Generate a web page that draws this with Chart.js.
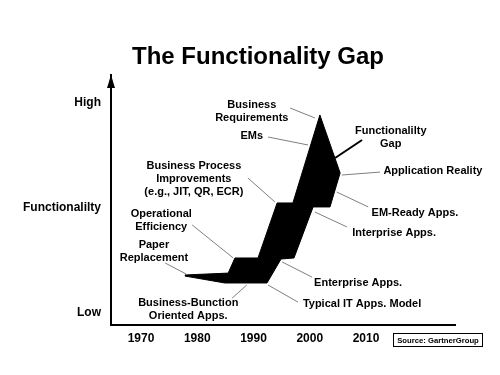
<!DOCTYPE html>
<html>
<head>
<meta charset="utf-8">
<title>The Functionality Gap</title>
<script src="https://cdn.jsdelivr.net/npm/chart.js@4.4.0/dist/chart.umd.min.js"></script>
<style>
  html, body { margin: 0; padding: 0; background: #fff; }
  #wrap { width: 500px; height: 375px; }
</style>
</head>
<body>
<div id="wrap"><canvas id="gapChart" width="500" height="375"></canvas></div>
<script>
// axis ticks
const yearTicks = [1970, 1980, 1990, 2000, 2010];
const levelTicks = [0, 50, 100];
const levelNames = ['Low', 'Functionalilty', 'High'];

// Business Requirements (upper edge of the gap)
const reqYears  = [1977.8, 1985.5, 1986.7, 1990.8, 1994.2, 1997.0, 2001.8, 2005.4];
const reqLevels = [18.1, 19.0, 26.2, 26.2, 52.4, 52.4, 94.3, 66.7];

// Application Reality (lower edge of the gap)
const appYears  = [1977.8, 1984.9, 1992.4, 1994.9, 1997.2, 2000.6, 2003.6, 2005.4];
const appLevels = [17.6, 14.3, 14.3, 25.7, 26.2, 50.5, 50.5, 66.7];

// call-outs: text, where the text sits, and where its pointer goes
const noteTexts = [
    ['Business', 'Requirements'],
    ['EMs'],
    ['Functionalilty', 'Gap'],
    ['Application Reality'],
    ['EM-Ready Apps.'],
    ['Interprise Apps.'],
    ['Enterprise Apps.'],
    ['Typical IT Apps. Model'],
    ['Business-Bunction', 'Oriented Apps.'],
    ['Paper', 'Replacement'],
    ['Operational', 'Efficiency'],
    ['Business Process', 'Improvements', '(e.g., JIT, QR, ECR)']
];
const noteYears  = [1989.7, 1989.7, 2014.4, 2021.9, 2018.7, 2015.0, 2008.6, 2009.3, 1978.4, 1972.3, 1973.6, 1979.4];
const noteLevels = [96.0, 84.3, 83.6, 67.6, 47.6, 38.1, 14.3, 4.3, 1.7, 29.5, 44.3, 64.0];
const pointerFrom = [
    [1996.5, 97.6], [1992.6, 83.8], [2009.3, 82.4], [2012.5, 67.1],
    [2010.4, 50.5], [2006.6, 41.0], [2000.4, 17.1], [1997.9, 5.2],
    [1986.2, 7.1], [1974.3, 23.8], [1979.1, 41.9], [1989.0, 64.3]
];
const pointerTo = [
    [2000.9, 92.9], [1999.7, 80.0], [2004.5, 73.8], [2005.7, 65.7],
    [2004.8, 57.6], [2000.9, 48.1], [1995.1, 24.3], [1992.6, 13.3],
    [1988.8, 13.3], [1978.0, 18.6], [1986.4, 26.2], [1993.8, 52.9]
];

const FONT = '"Liberation Sans", Arial, sans-serif';
Chart.defaults.font.family = FONT;
Chart.defaults.color = '#000';

// the gap: along the requirements line, then back along application reality
const gapShape = reqYears.map((yr, i) => ({ x: yr, y: reqLevels[i] }))
    .concat(appYears.map((yr, i) => ({ x: yr, y: appLevels[i] })).reverse());

const notesPlugin = {
    id: 'notes',
    afterDraw(chart) {
        const ctx = chart.ctx;
        const xs = chart.scales.x;
        const ys = chart.scales.y;
        const area = chart.chartArea;
        ctx.save();

        // title, a little right of the page centre like the slide
        ctx.font = 'bold 24px ' + FONT;
        ctx.fillStyle = '#000';
        ctx.textAlign = 'center';
        ctx.textBaseline = 'middle';
        ctx.fillText('The Functionality Gap', 258, 57);

        noteTexts.forEach((lines, i) => {
            const isGap = lines[0] === 'Functionalilty';
            ctx.beginPath();
            ctx.moveTo(xs.getPixelForValue(pointerFrom[i][0]), ys.getPixelForValue(pointerFrom[i][1]));
            ctx.lineTo(xs.getPixelForValue(pointerTo[i][0]), ys.getPixelForValue(pointerTo[i][1]));
            ctx.strokeStyle = isGap ? '#000' : '#7f7f7f';
            ctx.lineWidth = isGap ? 2 : 1;
            ctx.stroke();

            ctx.font = 'bold 11px ' + FONT;
            ctx.fillStyle = '#000';
            const cx = xs.getPixelForValue(noteYears[i]);
            const cy = ys.getPixelForValue(noteLevels[i]);
            lines.forEach((t, k) => {
                ctx.fillText(t, cx, cy + (k - (lines.length - 1) / 2) * 13);
            });
        });

        // arrow head on the functionality axis
        ctx.beginPath();
        ctx.moveTo(area.left, area.top);
        ctx.lineTo(area.left - 4, area.top + 13);
        ctx.lineTo(area.left + 4, area.top + 13);
        ctx.closePath();
        ctx.fillStyle = '#000';
        ctx.fill();

        // source box
        ctx.fillStyle = '#fff';
        ctx.fillRect(393.5, 333.5, 89, 13);
        ctx.strokeStyle = '#000';
        ctx.lineWidth = 1;
        ctx.strokeRect(393.5, 333.5, 89, 13);
        ctx.font = 'bold 7.7px ' + FONT;
        ctx.fillStyle = '#000';
        ctx.fillText('Source: GartnerGroup', 438, 340.5);

        ctx.restore();
    }
};

const ctx = document.getElementById('gapChart').getContext('2d');
const gapChart = new Chart(ctx, {
    type: 'scatter',
    data: {
        datasets: [{
            label: 'Functionality Gap',
            data: gapShape,
            showLine: true,
            fill: 'shape',
            backgroundColor: '#000',
            borderColor: '#000',
            borderWidth: 1,
            pointRadius: 0,
            tension: 0
        }]
    },
    options: {
        responsive: false,
        animation: false,
        layout: {
            padding: { top: 75, right: 45, bottom: 0, left: 0 }
        },
        plugins: {
            legend: { display: false },
            tooltip: { enabled: false },
            title: { display: false }
        },
        scales: {
            x: {
                type: 'linear',
                min: 1964.667,
                max: 2025.822,
                grid: { display: false, drawTicks: false },
                border: { display: true, color: '#000', width: 2 },
                afterFit(scale) { scale.height = 50; },
                afterBuildTicks(scale) {
                    scale.ticks = yearTicks.map(v => ({ value: v }));
                },
                ticks: {
                    autoSkip: false,
                    maxRotation: 0,
                    padding: 6,
                    color: '#000',
                    font: { size: 12, weight: 'bold' },
                    callback: v => String(v)
                }
            },
            y: {
                type: 'linear',
                min: -5.714,
                max: 113.333,
                grid: { display: false, drawTicks: false },
                border: { display: true, color: '#000', width: 2 },
                afterFit(scale) { scale.width = 111; },
                afterBuildTicks(scale) {
                    scale.ticks = levelTicks.map(v => ({ value: v }));
                },
                ticks: {
                    autoSkip: false,
                    padding: 10,
                    color: '#000',
                    font: { size: 12, weight: 'bold' },
                    callback: v => levelNames[levelTicks.indexOf(v)]
                }
            }
        }
    },
    plugins: [notesPlugin]
});
</script>
</body>
</html>
